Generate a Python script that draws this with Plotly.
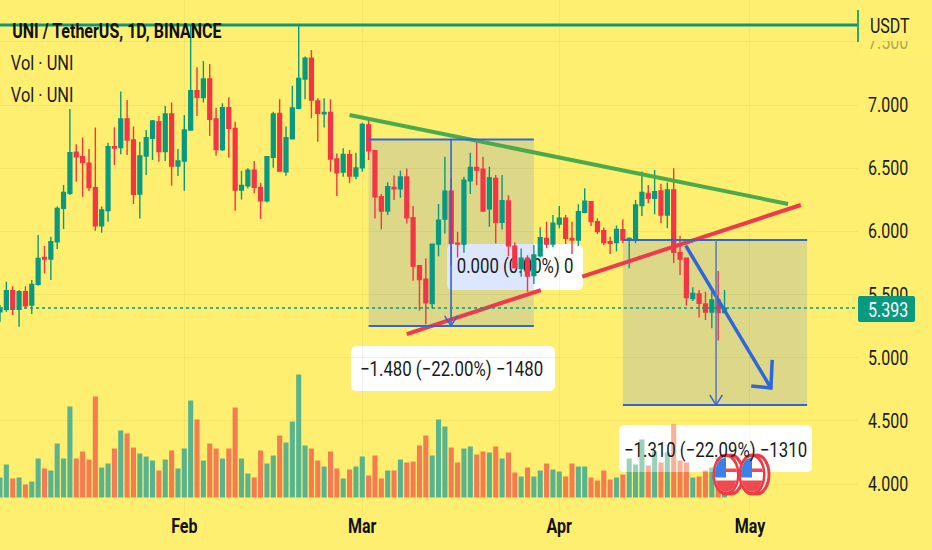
import numpy as np
import plotly.graph_objects as go

bar_index = list(range(-29, 86))
opens = [5.364,5.383,5.530,5.383,5.523,5.417,5.581,5.794,5.781,5.918,6.182,6.301,6.626,6.591,6.539,6.346,6.045,6.164,6.671,6.663,6.890,6.723,6.296,6.597,6.737,6.868,6.631,6.929,6.517,6.557,
         6.802,7.114,7.058,7.206,6.889,6.647,6.979,6.815,6.327,6.361,6.485,6.348,6.243,6.586,6.934,6.472,6.733,6.974,7.206,7.370,7.032,6.931,6.942,6.573,6.470,6.607,6.438,6.504,6.842,
         6.638,6.274,6.161,6.348,6.337,6.430,6.108,5.728,5.622,5.430,5.899,6.097,6.319,5.907,5.899,6.401,6.506,6.493,6.179,6.419,6.071,6.240,5.883,5.707,5.788,5.650,5.806,5.945,5.900,6.059,
         6.104,5.945,5.932,6.151,6.235,6.077,6.006,5.919,5.911,6.014,5.932,5.945,6.204,6.301,6.262,6.320,6.130,6.328,5.832,5.787,5.468,5.505,5.426,5.362,5.457,5.357]
closes = [5.383,5.530,5.383,5.523,5.412,5.581,5.786,5.781,5.918,6.182,6.309,6.623,6.591,6.544,6.346,6.045,6.169,6.671,6.660,6.890,6.723,6.293,6.597,6.742,6.874,6.631,6.929,6.517,6.557,6.802,
          7.114,7.061,7.206,6.887,6.647,6.979,6.815,6.327,6.364,6.485,6.348,6.243,6.591,6.929,6.478,6.741,6.976,7.211,7.370,7.040,6.934,6.942,6.573,6.464,6.609,6.438,6.501,6.847,6.638,
          6.274,6.161,6.353,6.337,6.430,6.108,5.725,5.620,5.435,5.899,6.089,6.319,5.905,5.899,6.406,6.506,6.485,6.161,6.424,6.071,6.242,5.886,5.712,5.788,5.646,5.813,5.951,5.900,6.064,6.104,
          5.945,5.932,6.156,6.238,6.077,5.998,5.911,5.906,6.016,5.932,5.945,6.209,6.309,6.262,6.314,6.130,6.328,5.835,5.782,5.476,5.510,5.431,5.362,5.457,5.357,5.393]
highs = [5.417,5.602,5.567,5.536,5.567,5.615,5.971,5.884,5.958,6.196,6.367,6.969,6.689,6.742,6.652,6.821,6.196,6.702,6.824,7.106,7.040,6.829,6.710,6.802,6.882,6.913,6.992,7.019,6.652,6.921,
         7.625,7.298,7.348,7.325,6.979,7.013,7.061,6.868,6.480,6.499,6.557,6.385,6.596,6.947,7.045,6.829,7.153,7.633,7.383,7.435,7.053,7.053,7.045,6.617,6.657,6.644,6.623,6.860,6.895,
         6.638,6.295,6.388,6.443,6.480,6.498,6.200,5.733,5.786,5.905,6.216,6.591,6.419,5.997,6.432,6.622,6.717,6.591,6.512,6.446,6.446,6.285,5.912,5.865,5.812,5.893,6.032,6.077,6.130,6.201,
         6.130,6.077,6.214,6.341,6.235,6.104,6.030,5.958,6.046,6.096,5.953,6.249,6.473,6.367,6.486,6.375,6.386,6.499,5.966,5.787,5.558,5.537,5.523,5.523,5.687,5.537]
lows = [5.285,5.364,5.338,5.245,5.396,5.346,5.570,5.668,5.615,5.860,6.019,6.288,6.393,6.275,6.320,6.006,5.990,6.077,6.525,6.610,6.605,6.217,6.103,6.446,6.565,6.552,6.557,6.362,6.438,6.322,
        6.797,6.913,7.019,6.755,6.599,6.636,6.583,6.164,6.253,6.340,6.301,6.098,6.229,6.504,6.472,6.441,6.728,6.966,7.045,6.895,6.710,6.821,6.472,6.280,6.433,6.380,6.412,6.472,6.565,
        6.102,6.015,6.129,6.248,6.266,6.063,5.609,5.372,5.266,5.390,5.804,5.984,5.733,5.794,5.831,6.295,6.366,6.155,6.037,5.905,6.015,5.804,5.707,5.641,5.522,5.584,5.795,5.866,5.874,6.024,
        5.900,5.821,5.885,6.143,6.043,5.980,5.893,5.821,5.840,5.906,5.708,5.906,6.122,6.222,6.135,6.064,6.024,5.748,5.655,5.413,5.450,5.318,5.299,5.233,5.136,5.352]
volumes = [20,33,19,20,13,16,39,29,27,54,39,91,39,46,38,101,30,34,49,67,64,50,44,41,37,27,38,47,29,49,
           97,78,37,54,49,39,49,90,39,24,20,47,34,42,62,55,76,123,52,49,37,31,46,29,19,28,31,41,22,
           42,19,27,27,38,35,36,52,62,42,78,71,50,35,49,51,43,46,45,51,39,45,25,21,30,21,27,34,28,26,
           21,34,31,31,20,17,27,18,20,23,39,33,58,32,46,35,45,73,37,35,20,21,27,30,40,25]

price_ticks = [4.0, 4.5, 5.0, 5.5, 6.0, 6.5, 7.0, 7.5]
month_pos = [0, 28, 59, 89]
month_labels = ["Feb", "Mar", "Apr", "May"]
last_price = 5.393

green_line_x, green_line_y = [26.0, 95.0], [6.921, 6.217]
red_line_x = [35.0, 56.1, None, 62.6, 97.0]
red_line_y = [5.188, 5.536, None, 5.642, 6.209]
arrow_x = [78.9, 92.3, None, 89.2, 92.3, 92.5]
arrow_y = [5.887, 4.761, None, 4.777, 4.761, 4.983]
box1 = dict(x0=29, x1=55, top=6.727, bottom=5.252, mid=41.97)
box2 = dict(x0=69, x1=98, top=5.932, bottom=4.627, mid=83.67)

W, H = 932, 550
PW, PH = 858, 512
BG = "#FFEF70"
GREEN, RED = "#089981", "#F23645"
VGREEN, VRED = "#58B38E", "#F57C50"
BLUE = "#2F66DC"
FONT = "Roboto, sans-serif"
TXT = "#1a1a1a"

def px(x): return x / PW
def py(y): return 1 - y / PH

def rrect(x0, y0, x1, y1, r=6):
    a, b, c, d = px(x0), px(x1), py(y0), py(y1)
    rx, ry = r / PW, r / PH
    return (f"M{a+rx},{c} L{b-rx},{c} Q{b},{c} {b},{c-ry} L{b},{d+ry} Q{b},{d} {b-rx},{d} "
            f"L{a+rx},{d} Q{a},{d} {a},{d+ry} L{a},{c-ry} Q{a},{c} {a+rx},{c} Z")

shapes = []
def add_paper(**k):
    shapes.append(dict(xref="paper", yref="paper", **k))

# white label under the tinted measurement box
add_paper(type="path", path=rrect(447, 244, 583, 290), fillcolor="white", line_width=0, layer="below")
for b in (box1, box2):
    shapes.append(dict(type="rect", xref="x", yref="y3", x0=b["x0"], x1=b["x1"], y0=b["bottom"], y1=b["top"],
                       fillcolor="rgba(41,98,255,0.16)", line_width=0, layer="below"))
add_paper(type="path", path=rrect(351, 346, 555, 391), fillcolor="white", line_width=0, layer="below")
add_paper(type="path", path=rrect(619, 425, 812, 472), fillcolor="white", line_width=0, layer="below")

# measurement box edges and arrows
for b, col in ((box1, BLUE), (box2, "#5F7FB8")):
    for yv in (b["top"], b["bottom"]):
        shapes.append(dict(type="line", xref="x", yref="y3", x0=b["x0"], x1=b["x1"], y0=yv, y1=yv,
                           line=dict(color=BLUE, width=2), layer="above"))
    shapes.append(dict(type="line", xref="x", yref="y3", x0=b["mid"], x1=b["mid"], y0=b["bottom"], y1=b["top"],
                       line=dict(color=col, width=1.6), layer="above"))
    shapes.append(dict(type="path", xref="x", yref="y3",
                       path=f"M{b['mid']-1},{b['bottom']+0.08} L{b['mid']},{b['bottom']} L{b['mid']+1},{b['bottom']+0.08}",
                       line=dict(color=BLUE, width=1.5), layer="above"))

# faded volume bars showing through the lower label
add_paper(type="path", path=rrect(619, 425, 812, 472), fillcolor="rgba(255,255,255,0.4)", line_width=0, layer="above")

# last-price line, top line, price tag
shapes.append(dict(type="line", xref="paper", yref="y3", x0=0, x1=1, y0=last_price, y1=last_price,
                   line=dict(color=GREEN, width=1.5, dash="dot"), layer="above"))
add_paper(type="line", x0=0, x1=1, y0=py(25), y1=py(25), line=dict(color=GREEN, width=3), layer="above")
add_paper(type="line", x0=px(858), x1=px(858), y0=py(10), y1=py(42), line=dict(color="#2FA86F", width=2), layer="above")
add_paper(type="rect", x0=px(860), x1=px(932), y0=py(0), y1=py(41), fillcolor=BG, line_width=0, layer="above")
add_paper(type="rect", x0=px(860), x1=px(932), y0=py(41), y1=py(55), fillcolor="rgba(255,239,112,0.65)", line_width=0, layer="above")
add_paper(type="path", path=rrect(858, 296, 915, 322, 2), fillcolor=GREEN, line_width=0, layer="above")

# news coin icons
def ell(cx, cy, rx, ry, col):
    add_paper(type="circle", x0=px(cx-rx), x1=px(cx+rx), y0=py(cy+ry), y1=py(cy-ry), fillcolor=col, line_width=0, layer="above")

def band(cx, cy, rx, ry, y0, y1, col, xlim=None):
    ys = np.linspace(y0, y1, 9)
    w = rx * np.sqrt(np.clip(1 - (ys / ry) ** 2, 0, 1))
    left = -w
    right = w if xlim is None else np.minimum(w, xlim)
    pts = [(cx + a, cy + y) for a, y in zip(left, ys)] + [(cx + a, cy + y) for a, y in zip(right[::-1], ys[::-1])]
    d = "M" + " L".join(f"{px(a):.5f},{py(b):.5f}" for a, b in pts) + " Z"
    add_paper(type="path", path=d, fillcolor=col, line_width=0, layer="above")

for cx in (726, 752):
    cy = 474.5
    ell(cx + 5, cy, 13.5, 21, "#EE3A45")
    ell(cx + 4, cy, 11.5, 18, "white")
    ell(cx, cy, 13.5, 21, "#EE3A45")
    ell(cx, cy, 11, 17.5, "white")
    band(cx, cy, 11, 17.5, 6, 17.5, "#EE4A50")
    band(cx, cy, 11, 17.5, -6, -2.5, "#EE4A50")
    band(cx, cy, 11, 17.5, -17.5, 3, "#3B82E8", xlim=0)

annotations = []
def text(x, y, s, size=20, color=TXT, bold=False):
    annotations.append(dict(xref="paper", yref="paper", x=px(x), y=py(y), text=f"<b>{s}</b>" if bold else s,
                            showarrow=False, xanchor="center", yanchor="middle",
                            font=dict(family=FONT, size=size, color=color)))

text(117, 31, "UNI / TetherUS, 1D, BINANCE", 20, "#111", bold=True)
text(42, 63, "Vol · UNI", 20.5)
text(42, 95, "Vol · UNI", 20.5)
text(890, 26, "USDT", 20)
text(888, 309.5, f"{last_price:.3f}", 20, "white")
text(451, 369, "−1.480 (−22.00%) −1480", 21)
text(715, 449.5, "−1.310 (−22.09%) −1310", 21)

fig = go.Figure()
fig.add_trace(go.Bar(x=bar_index, y=volumes, yaxis="y",
                     marker=dict(color=[VGREEN if c >= o else VRED for o, c in zip(opens, closes)], line_width=0),
                     width=0.8))
fig.add_trace(go.Scatter(x=[52.04], y=[5.71], yaxis="y2", mode="text", text=["0.000 (0.00%) 0"],
                         textposition="middle center", textfont=dict(family=FONT, size=21, color=TXT)))
fig.add_trace(go.Candlestick(x=bar_index, open=opens, high=highs, low=lows, close=closes, yaxis="y3",
                             whiskerwidth=0,
                             increasing=dict(line=dict(color=GREEN, width=1.4), fillcolor=GREEN),
                             decreasing=dict(line=dict(color=RED, width=1.4), fillcolor=RED)))
fig.add_trace(go.Scatter(x=green_line_x, y=green_line_y, yaxis="y3", mode="lines",
                         line=dict(color="#4CAA4E", width=4)))
fig.add_trace(go.Scatter(x=red_line_x, y=red_line_y, yaxis="y3", mode="lines",
                         line=dict(color="#EE3A4C", width=4)))
fig.add_trace(go.Scatter(x=arrow_x, y=arrow_y, yaxis="y3", mode="lines",
                         line=dict(color=BLUE, width=3.5)))

price_range = [3.780, 7.8307]
fig.update_layout(
    width=W, height=H, margin=dict(l=0, r=W - PW, t=0, b=H - PH),
    paper_bgcolor=BG, plot_bgcolor=BG, showlegend=False, boxgap=0.4, boxgroupgap=0,
    shapes=shapes, annotations=annotations,
    xaxis=dict(range=[-29, 106], tickmode="array", tickvals=month_pos, ticktext=[f"<b>{m}</b>" for m in month_labels],
               rangeslider=dict(visible=False), showgrid=True, gridcolor="rgba(120,120,60,0.09)", zeroline=False,
               showline=False, ticks="", tickfont=dict(family=FONT, size=20, color="#111"), anchor="y"),
    yaxis=dict(range=[-14.5, 497.5], showgrid=False, showticklabels=False, zeroline=False, showline=False),
    yaxis2=dict(range=price_range, overlaying="y", showgrid=False, showticklabels=False, zeroline=False, showline=False),
    yaxis3=dict(range=price_range, overlaying="y", side="right", tickmode="array", tickvals=price_ticks,
                ticktext=[f"{t:.3f}" for t in price_ticks], showgrid=True, gridcolor="rgba(120,120,60,0.09)",
                zeroline=False, showline=False, ticks="outside", ticklen=5, tickcolor="rgba(0,0,0,0)",
                tickfont=dict(family=FONT, size=20, color=TXT)),
)

# Page setup: no body margin, and the reference's horizontally narrow lettering.
post = """
document.body.style.margin='0';
document.body.style.background='#FFEF70';
document.querySelectorAll('svg text').forEach(function(t){
  var n=t.getComputedTextLength();
  if(n>0){t.setAttribute('textLength',(n*0.8).toFixed(1));t.setAttribute('lengthAdjust','spacingAndGlyphs');}
});
"""
fig.write_html("out.html", config=dict(displayModeBar=False), post_script=post)
